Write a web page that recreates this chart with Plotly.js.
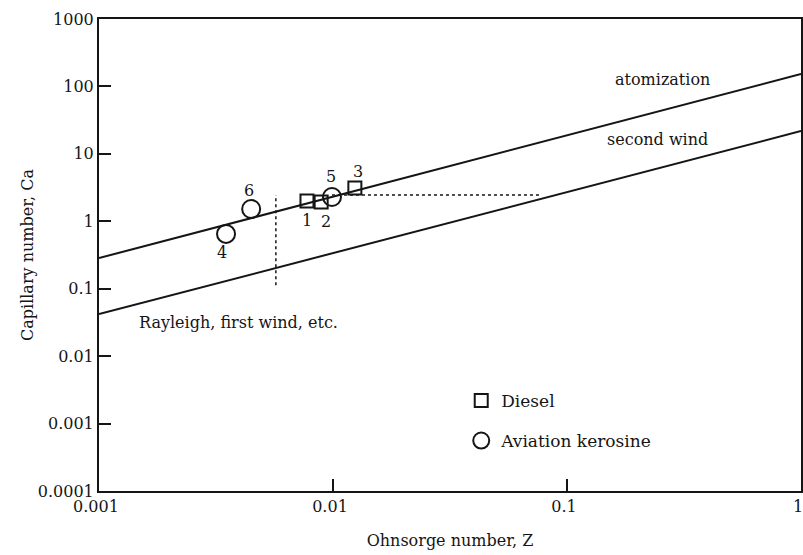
<!DOCTYPE html>
<html>
<head>
<meta charset="utf-8">
<script src="https://cdn.plot.ly/plotly-3.0.1.min.js"></script>
<style>html,body{margin:0;padding:0;background:#fff;}#chart{width:803px;height:555px;}</style>
</head>
<body>
<div id="chart"></div>
<script>
// Regime boundary lines (Ohnsorge Z vs Capillary Ca)
const boundaryZ = [0.001, 1];
const atomizationCa = [0.285, 153];
const secondWindCa = [0.042, 21.8];

// Dashed guide lines
const vDashZ = [0.0057, 0.0057];
const vDashCa = [0.113, 2.45];
const hDashZ = [0.0099, 0.078];
const hDashCa = [2.45, 2.45];

// Fuel data points
const dieselZ = [0.00774, 0.0089, 0.0124];
const dieselCa = [2.0, 1.93, 3.12];
const dieselLabels = ["1", "2", "3"];
const keroZ = [0.00349, 0.0099, 0.00447];
const keroCa = [0.65, 2.29, 1.52];
const keroLabels = ["4", "5", "6"];

// Ticks
const xTickVals = [0.001, 0.01, 0.1, 1];
const xTickText = ["0.001", "0.01", "0.1", "1"];
const yTickVals = [0.0001, 0.001, 0.01, 0.1, 1, 10, 100, 1000];
const yTickText = ["0.0001", "0.001", "0.01", "0.1", "1", "10", "100", "1000"];

const FONT = "DejaVu Serif, Liberation Serif, serif";
const INK = "#151515";

const traces = [
  {x: boundaryZ, y: atomizationCa, mode: "lines", line: {color: INK, width: 2}, showlegend: false, hoverinfo: "skip"},
  {x: boundaryZ, y: secondWindCa, mode: "lines", line: {color: INK, width: 2}, showlegend: false, hoverinfo: "skip"},
  {x: vDashZ, y: vDashCa, mode: "lines", line: {color: INK, width: 1.5, dash: "3px,3px"}, showlegend: false, hoverinfo: "skip"},
  {x: hDashZ, y: hDashCa, mode: "lines", line: {color: INK, width: 1.5, dash: "3px,3px"}, showlegend: false, hoverinfo: "skip"},
  {x: dieselZ, y: dieselCa, mode: "markers", name: "Diesel", legendgroup: "d",
   marker: {symbol: "square-open", size: 13, color: INK, line: {width: 2, color: INK}}},
  {x: keroZ, y: keroCa, mode: "markers", name: "Aviation kerosine", legendgroup: "k",
   marker: {symbol: "circle-open", size: 18, color: INK, line: {width: 2, color: INK}}}
];

const labelOffsets = {
  "1": [0, 20], "2": [5, 19], "3": [3, -16],
  "4": [-4, 19], "5": [-1, -21], "6": [-2, -19]
};
const annotations = [];
dieselZ.forEach((z, i) => {
  const o = labelOffsets[dieselLabels[i]];
  annotations.push({x: Math.log10(z), y: Math.log10(dieselCa[i]), xref: "x", yref: "y", text: dieselLabels[i],
    showarrow: false, xshift: o[0], yshift: -o[1], font: {family: FONT, size: 16, color: INK}});
});
keroZ.forEach((z, i) => {
  const o = labelOffsets[keroLabels[i]];
  annotations.push({x: Math.log10(z), y: Math.log10(keroCa[i]), xref: "x", yref: "y", text: keroLabels[i],
    showarrow: false, xshift: o[0], yshift: -o[1], font: {family: FONT, size: 16, color: INK}});
});
annotations.push(
  {x: 0.803, y: 0.871, xref: "paper", yref: "paper", xanchor: "center", yanchor: "middle", text: "atomization", showarrow: false, font: {family: FONT, size: 16, color: INK}},
  {x: 0.796, y: 0.744, xref: "paper", yref: "paper", xanchor: "center", yanchor: "middle", text: "second wind", showarrow: false, font: {family: FONT, size: 16, color: INK}},
  {x: 0.199, y: 0.356, xref: "paper", yref: "paper", xanchor: "center", yanchor: "middle", text: "Rayleigh, first wind, etc.", showarrow: false, font: {family: FONT, size: 16, color: INK}}
);

const layout = {
  width: 803, height: 555,
  margin: {l: 99, r: 2, t: 19, b: 64},
  paper_bgcolor: "#fff", plot_bgcolor: "#fff",
  font: {family: FONT, size: 16, color: INK},
  showlegend: true,
  legend: {x: 0.516, y: 0.229, xanchor: "left", yanchor: "top", bgcolor: "rgba(0,0,0,0)",
    font: {family: FONT, size: 17, color: INK}, tracegroupgap: 15, traceorder: "grouped"},
  xaxis: {type: "log", range: [-3, 0], tickvals: xTickVals, ticktext: xTickText,
    ticks: "inside", ticklen: 12, tickwidth: 2, tickcolor: INK, ticklabeloverflow: "allow", ticklabelshift: -3,
    showline: true, linecolor: INK, linewidth: 2, mirror: true, showgrid: false, zeroline: false,
    tickfont: {family: FONT, size: 16, color: INK},
    title: {text: "Ohnsorge number, Z", font: {family: FONT, size: 16, color: INK}, standoff: 20}},
  yaxis: {type: "log", range: [-4, 3], tickvals: yTickVals, ticktext: yTickText,
    ticks: "inside", ticklen: 12, tickwidth: 2, tickcolor: INK, ticklabelstandoff: 0,
    showline: true, linecolor: INK, linewidth: 2, mirror: true, showgrid: false, zeroline: false,
    tickfont: {family: FONT, size: 16, color: INK},
    title: {text: "Capillary number, Ca", font: {family: FONT, size: 16, color: INK}, standoff: 0}},
  annotations: annotations
};

Plotly.newPlot("chart", traces, layout, {displayModeBar: false, staticPlot: true});
</script>
</body>
</html>
